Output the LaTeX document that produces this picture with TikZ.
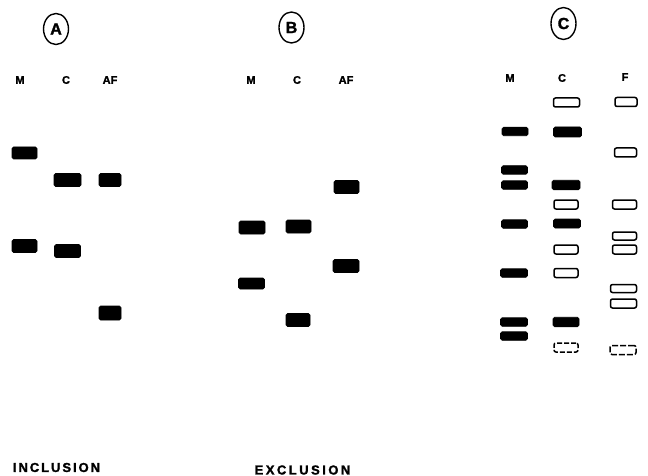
\documentclass[tikz,border=0pt]{standalone}
\usepackage{fontspec}
\setmainfont{Liberation Sans}
\newfontfamily\boldfont[FakeBold=1.6]{Liberation Sans Bold}
\newfontfamily\incfont[LetterSpace=15,FakeBold=1.6]{Liberation Sans Bold}
\newfontfamily\excfont[LetterSpace=19,FakeBold=1.6]{Liberation Sans Bold}
\begin{document}
\begin{tikzpicture}[x=1pt,y=-1pt,
  band/.style={fill=black,draw=black,line width=0.6pt,rounded corners=1.5pt,minimum width=25pt,minimum height=12pt,inner sep=0pt},
  bandc/.style={band,minimum width=26pt,minimum height=8.5pt},
  openb/.style={draw=black,line width=1.5pt,fill=white,rounded corners=2pt,minimum width=24pt,minimum height=9pt,inner sep=0pt},
  lane/.style={font=\boldfont\fontsize{11}{12}\selectfont,inner sep=0pt},
  panel/.style={font=\boldfont\fontsize{16}{17}\selectfont,inner sep=0pt},
  inccap/.style={font=\incfont\fontsize{13}{14}\selectfont,inner sep=0pt},
  exccap/.style={font=\excfont\fontsize{13}{14}\selectfont,inner sep=0pt}]
\useasboundingbox (0,0) rectangle (648,476);

% ---------- panel A ----------
\node[panel] (pA) at (56,29) {A};
\draw[line width=1.4pt] (pA.center) ellipse [x radius=12.5, y radius=15.5];
\node[lane] (aM) at (20,80) {M};
\node[lane] (aC) at (66,80) {C};
\node[lane] (aAF) at (110,80) {AF};
\node[band] (a1) at (24.5,153) {};
\node[band,minimum width=27pt,minimum height=13pt] (a2) at (67.5,180) {};
\node[band,minimum width=22pt,minimum height=13pt] (a3) at (110,180) {};
\node[band,minimum height=13pt] (a4) at (24.5,246) {};
\node[band,minimum width=26pt,minimum height=13pt] (a5) at (67.5,251) {};
\node[band,minimum width=22pt,minimum height=14pt] (a6) at (110,313) {};

% ---------- panel B ----------
\node[panel] (pB) at (291.5,27.5) {B};
\draw[line width=1.4pt] (pB.center) ellipse [x radius=12.5, y radius=15.5];
\node[lane] (bM) at (251,80) {M};
\node[lane] (bC) at (297,80) {C};
\node[lane] (bAF) at (346,80) {AF};
\node[band,minimum height=13pt] (b1) at (346.5,187) {};
\node[band,minimum width=26pt,minimum height=13pt] (b2) at (252,227.5) {};
\node[band,minimum height=13pt] (b3) at (298.5,226.5) {};
\node[band,minimum width=26pt,minimum height=13pt] (b4) at (346,266) {};
\node[band,minimum width=26pt,minimum height=11pt] (b5) at (251.5,283.5) {};
\node[band,minimum width=24pt,minimum height=13pt] (b6) at (298,320) {};

% ---------- panel C ----------
\node[panel] (pC) at (563.5,23.5) {C};
\draw[line width=1.4pt] (pC.center) ellipse [x radius=12.5, y radius=16];
\node[lane] (cM) at (510,78) {M};
\node[lane] (cC) at (562,78) {C};
\node[lane] (cF) at (625,77) {F};
% M lane (filled)
\node[bandc] (m1) at (515,131.5) {};
\node[bandc] (m2) at (514.5,170) {};
\node[bandc] (m3) at (514.5,185) {};
\node[bandc] (m4) at (514.5,224) {};
\node[bandc,minimum width=27pt] (m5) at (514,273) {};
\node[bandc,minimum width=27pt] (m6) at (514,322) {};
\node[bandc,minimum width=27pt] (m7) at (514,336) {};
% C lane
\node[openb,minimum width=26pt] (c0) at (566.5,102.5) {};
\node[bandc,minimum width=28pt,minimum height=10pt] (c1) at (567.5,132) {};
\node[bandc,minimum width=28pt,minimum height=9.5pt] (c2) at (566,185) {};
\node[openb] (c3) at (566,204.5) {};
\node[bandc,minimum width=27pt,minimum height=9pt] (c4) at (567,223.5) {};
\node[openb] (c5) at (566,249.5) {};
\node[openb] (c6) at (566,273) {};
\node[bandc,minimum width=26pt,minimum height=9.5pt] (c7) at (566,322) {};
\node[openb,dash pattern=on 5pt off 2pt] (c8) at (566,347.5) {};
% F lane (open)
\node[openb,minimum width=22pt] (f0) at (626,102) {};
\node[openb,minimum width=22pt] (f1) at (625.5,152.5) {};
\node[openb] (f2) at (624.5,204.5) {};
\node[openb,minimum height=8pt] (f3) at (624.5,236) {};
\node[openb] (f4) at (624.5,249.5) {};
\node[openb,minimum width=26pt,minimum height=8pt] (f5) at (623.5,288.5) {};
\node[openb,minimum width=26pt] (f6) at (623.5,303.5) {};
\node[openb,minimum width=26pt,dash pattern=on 6pt off 2pt] (f7) at (623,350) {};

% ---------- captions ----------
\node[inccap] (inc) at (56.5,467.5) {INCLUSION};
\node[exccap] (exc) at (302.5,470) {EXCLUSION};
\end{tikzpicture}
\end{document}
